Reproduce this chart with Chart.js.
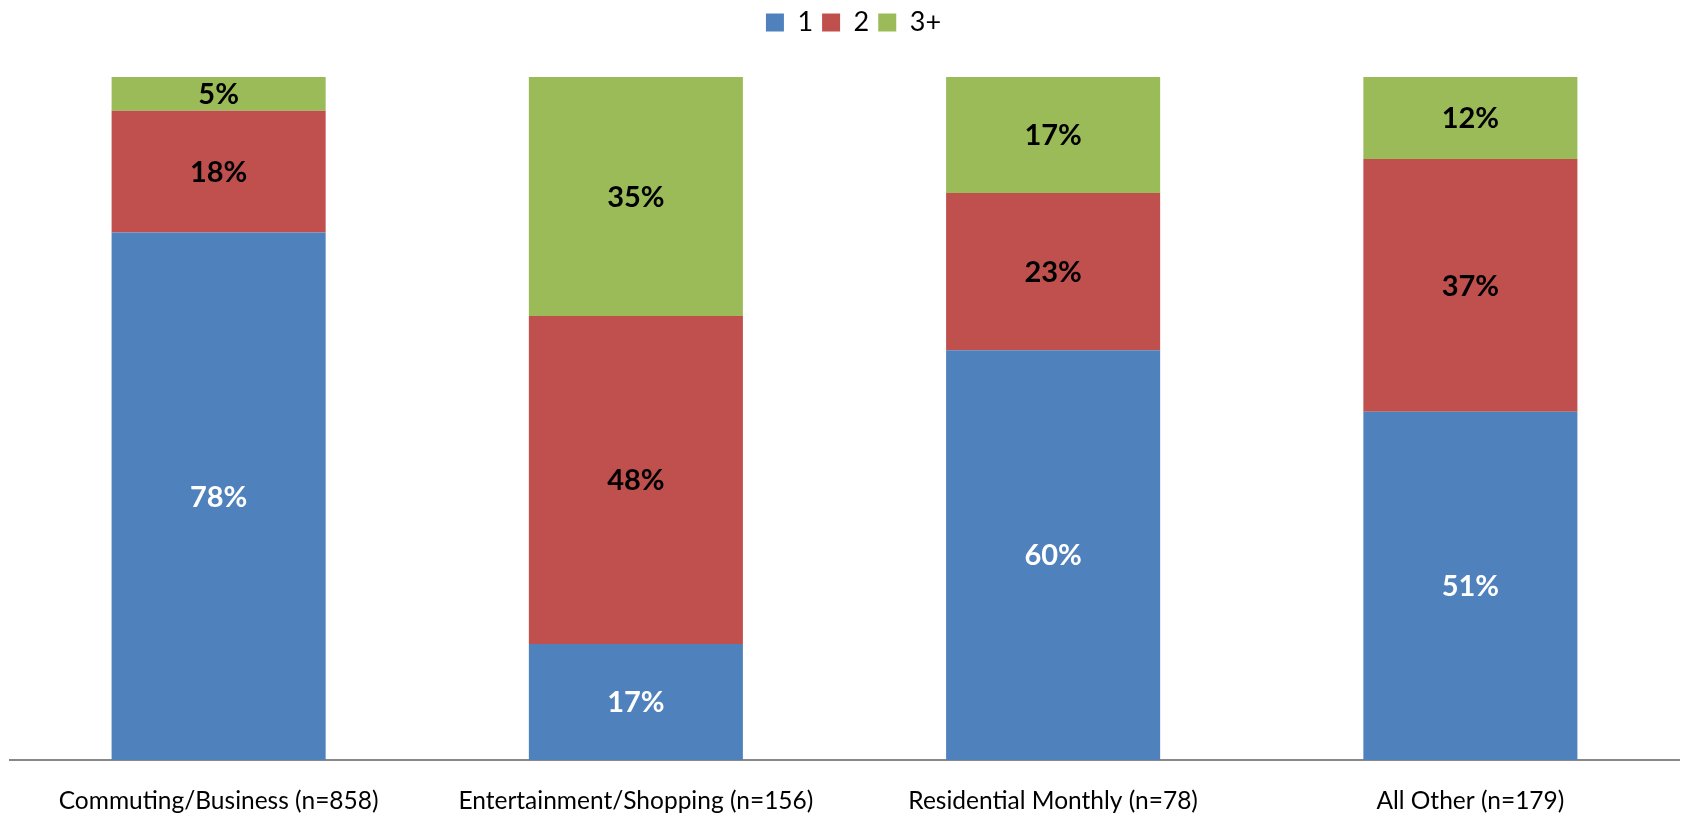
<!DOCTYPE html>
<html>
<head>
<meta charset="utf-8">
<script src="https://cdn.jsdelivr.net/npm/chart.js@4/dist/chart.umd.min.js"></script>
<style>
  html, body { margin: 0; padding: 0; background: #fff; }
  #wrap { position: relative; width: 1681px; height: 815px; }
</style>
</head>
<body>
<div id="wrap"><canvas id="chart"></canvas></div>
<script>
// ── data ─────────────────────────────────────────────
const CATEGORIES = [
  'Commuting/Business (n=858)',
  'Entertainment/Shopping (n=156)',
  'Residential Monthly (n=78)',
  'All Other (n=179)',
];
const SERIES_NAMES = ['1', '2', '3+'];
const ONE   = [78, 17, 60, 51];
const TWO   = [18, 48, 23, 37];
const THREE = [5, 35, 17, 12];

const COLORS     = ['#4F81BD', '#C0504D', '#9BBB59'];
const LABEL_CLR  = ['#FFFFFF', '#000000', '#000000'];
const FONT       = 'Lato, "Open Sans", sans-serif';

// 100% stacked: each bar scaled to its own total
const raw    = [ONE, TWO, THREE];
const totals = CATEGORIES.map((_, i) => raw.reduce((s, arr) => s + arr[i], 0));

const datasets = raw.map((arr, k) => ({
  label: SERIES_NAMES[k],
  data: arr.map((v, i) => v / totals[i] * 100),
  shown: arr,
  backgroundColor: COLORS[k],
  borderWidth: 0,
  categoryPercentage: 1,
  barPercentage: 0.513,
}));

// ── legend: extra space below, nudged right ──────────
const legendGap = {
  id: 'legendGap',
  beforeInit(chart) {
    const fit = chart.legend.fit;
    chart.legend.fit = function () {
      fit.call(this);
      this.height = 77;
    };
  },
  afterLayout(chart) {
    chart.legend.left += 9;
    chart.legend.right += 9;
  },
};

// ── value labels inside segments ─────────────────────
const segLabels = {
  id: 'segLabels',
  afterDatasetsDraw(chart) {
    const ctx = chart.ctx;
    ctx.save();
    ctx.font = 'bold 29px ' + FONT;
    ctx.textAlign = 'center';
    ctx.textBaseline = 'middle';
    chart.data.datasets.forEach((ds, k) => {
      const meta = chart.getDatasetMeta(k);
      meta.data.forEach((bar, i) => {
        const y = (bar.y + bar.base) / 2;
        ctx.fillStyle = LABEL_CLR[k];
        ctx.fillText(ds.shown[i] + '%', bar.x, y + 1);
      });
    });
    ctx.restore();
  },
};

new Chart(document.getElementById('chart'), {
  type: 'bar',
  data: { labels: CATEGORIES, datasets },
  plugins: [legendGap, segLabels],
  options: {
    responsive: true,
    maintainAspectRatio: false,
    animation: false,
    layout: { padding: { left: 10, right: 2, top: 0, bottom: 0 } },
    plugins: {
      legend: {
        position: 'top',
        labels: {
          boxWidth: 18,
          boxHeight: 18,
          padding: 9,
          color: '#000',
          font: { family: FONT, size: 27, lineHeight: 0.7 },
        },
      },
      tooltip: { enabled: false },
    },
    scales: {
      x: {
        stacked: true,
        grid: { display: false },
        border: { display: true, color: '#888888', width: 2 },
        afterFit(scale) { scale.height = 55; },
        ticks: {
          color: '#000',
          padding: 18,
          font: { family: FONT, size: 24.5 },
          maxRotation: 0,
          autoSkip: false,
        },
      },
      y: {
        stacked: true,
        display: false,
        min: 0,
        max: 100,
      },
    },
  },
});
</script>
</body>
</html>
